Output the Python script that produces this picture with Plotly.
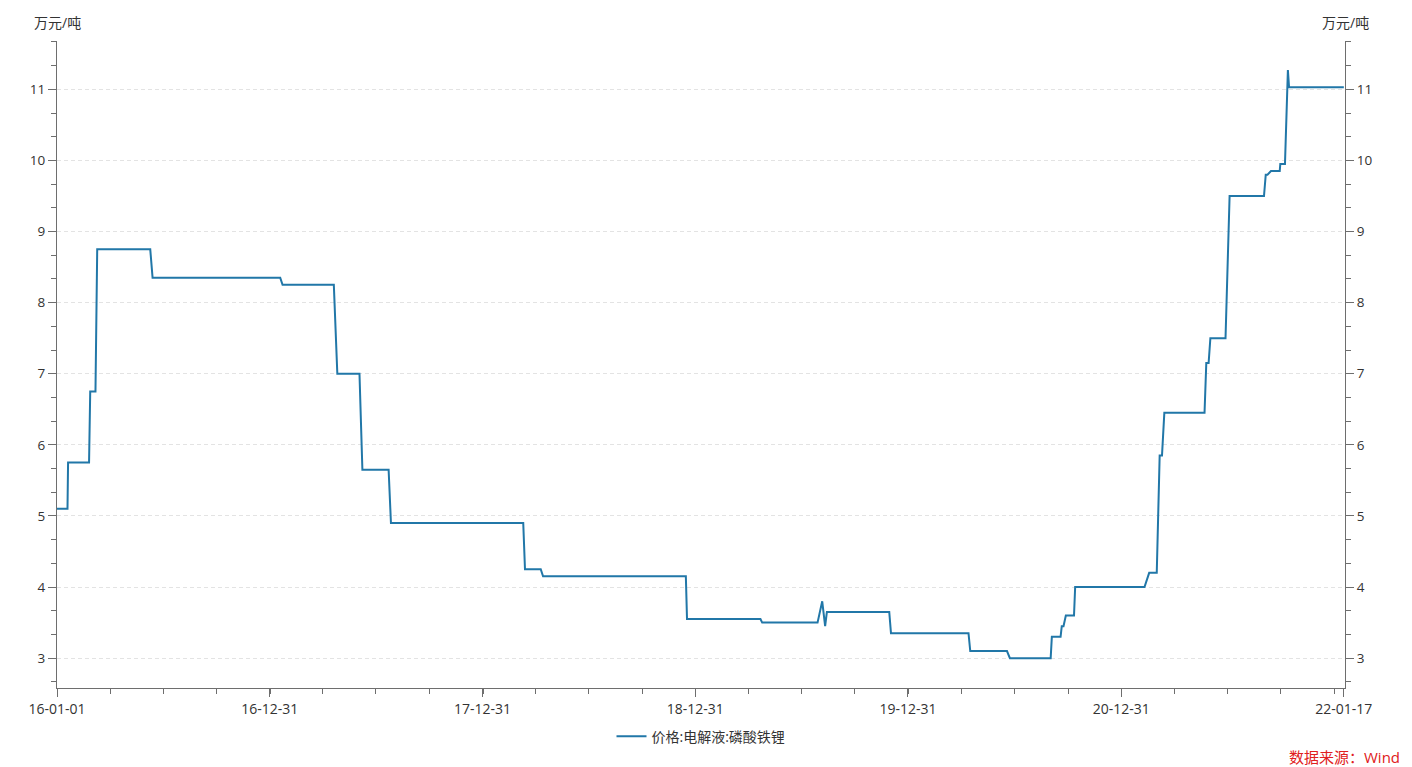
import plotly.graph_objects as go

# Vertices of the price line (万元/吨)
dates = [
    "2016-01-01", "2016-01-19", "2016-01-20", "2016-02-25", "2016-02-27", "2016-03-07",
    "2016-03-10", "2016-06-09", "2016-06-13", "2017-01-18", "2017-01-22", "2017-04-20",
    "2017-04-26", "2017-06-03", "2017-06-08", "2017-07-23", "2017-07-27", "2018-03-11",
    "2018-03-14", "2018-04-10", "2018-04-14", "2018-12-15", "2018-12-17", "2019-04-22",
    "2019-04-25", "2019-07-29", "2019-08-06", "2019-08-11", "2019-08-14", "2019-11-29",
    "2019-12-02", "2020-04-13", "2020-04-16", "2020-06-18", "2020-06-23", "2020-09-01",
    "2020-09-03", "2020-09-18", "2020-09-20", "2020-09-23", "2020-09-27", "2020-10-11",
    "2020-10-13", "2021-02-09", "2021-02-17", "2021-03-02", "2021-03-07", "2021-03-11",
    "2021-03-15", "2021-05-23", "2021-05-26", "2021-05-30", "2021-06-02", "2021-06-28",
    "2021-07-05", "2021-09-02", "2021-09-05", "2021-09-08", "2021-09-14", "2021-09-29",
    "2021-09-30", "2021-10-08", "2021-10-13", "2021-10-15", "2022-01-17",
]
values = [
    5.10, 5.10, 5.75, 5.75, 6.75, 6.75,
    8.75, 8.75, 8.35, 8.35, 8.25, 8.25,
    7.00, 7.00, 5.65, 5.65, 4.90, 4.90,
    4.25, 4.25, 4.15, 4.15, 3.55, 3.55,
    3.50, 3.50, 3.80, 3.45, 3.65, 3.65,
    3.35, 3.35, 3.10, 3.10, 3.00, 3.00,
    3.30, 3.30, 3.45, 3.45, 3.60, 3.60,
    4.00, 4.00, 4.20, 4.20, 5.85, 5.85,
    6.45, 6.45, 7.15, 7.15, 7.50, 7.50,
    9.50, 9.50, 9.80, 9.80, 9.85, 9.85,
    9.95, 9.95, 11.27, 11.03, 11.03,
]

series_name = "价格:电解液:磷酸铁锂"
x_tick_vals = ["2016-01-01", "2016-12-31", "2017-12-31", "2018-12-31",
               "2019-12-31", "2020-12-31", "2022-01-17"]
x_tick_text = ["16-01-01", "16-12-31", "17-12-31", "18-12-31",
               "19-12-31", "20-12-31", "22-01-17"]
y_tick_vals = [3, 4, 5, 6, 7, 8, 9, 10, 11]
unit_label = "万元/吨"
source_text = "数据来源：Wind"

FONT = "'Open Sans', 'Noto Sans CJK SC', sans-serif"
LINE_COLOR = "#2177a8"
AXIS_COLOR = "#6e6e6e"
TEXT_COLOR = "#333333"
Y_RANGE = [2.58, 11.68]

fig = go.Figure()
fig.add_trace(go.Scatter(
    x=dates, y=values, mode="lines", name=series_name,
    line=dict(color=LINE_COLOR, width=2),
))
# copy on the right axis so that it is drawn with labels
fig.add_trace(go.Scatter(
    x=dates, y=values, mode="lines", yaxis="y2", showlegend=False,
    hoverinfo="skip", line=dict(color="rgba(0,0,0,0)", width=0),
))

yaxis_common = dict(
    range=Y_RANGE, tickvals=y_tick_vals, ticks="outside", ticklen=8,
    tickcolor=AXIS_COLOR, showline=True, linecolor=AXIS_COLOR, linewidth=1,
    tickfont=dict(size=13.5, color=TEXT_COLOR, family=FONT), zeroline=False,
    minor=dict(dtick=1 / 3, tick0=3, ticks="outside", ticklen=5,
               tickcolor=AXIS_COLOR, showgrid=False),
)

fig.update_layout(
    width=1412, height=767,
    margin=dict(l=57, r=67, t=41, b=79),
    paper_bgcolor="white", plot_bgcolor="white",
    font=dict(family=FONT, size=13, color=TEXT_COLOR),
    showlegend=True,
    legend=dict(orientation="h", x=0.5, xanchor="center", y=-0.075,
                yanchor="middle", font=dict(size=14, color=TEXT_COLOR, family=FONT)),
    xaxis=dict(
        type="date", range=["2016-01-01", "2022-01-19"],
        tickvals=x_tick_vals, ticktext=x_tick_text,
        ticks="outside", ticklen=8, tickcolor=AXIS_COLOR,
        showline=True, linecolor=AXIS_COLOR, linewidth=1, showgrid=False,
        tickfont=dict(size=14, color=TEXT_COLOR, family=FONT), zeroline=False,
        minor=dict(dtick="M3", tick0="2016-01-01", ticks="outside", ticklen=5,
                   tickcolor=AXIS_COLOR, showgrid=False),
    ),
    yaxis=dict(showgrid=True, gridcolor="#e3e3e3", griddash="4px,3px", gridwidth=1,
               side="left", **yaxis_common),
    yaxis2=dict(overlaying="y", side="right", showgrid=False, **yaxis_common),
)

fig.add_annotation(text=unit_label, xref="paper", yref="paper", x=0, y=1.029,
                   xanchor="center", yanchor="middle", showarrow=False,
                   font=dict(size=14, color=TEXT_COLOR, family=FONT))
fig.add_annotation(text=unit_label, xref="paper", yref="paper", x=1, y=1.029,
                   xanchor="center", yanchor="middle", showarrow=False,
                   font=dict(size=14, color=TEXT_COLOR, family=FONT))
fig.add_annotation(text=source_text, xref="paper", yref="paper", x=1.0443, y=-0.106,
                   xanchor="right", yanchor="middle", showarrow=False,
                   font=dict(size=15, color="#e02020", family=FONT))

# remove the default page margin so the figure sits at the window's corner
fig.write_html("out.html", config={"displayModeBar": False},
               post_script="document.body.style.margin='0';document.body.style.overflow='hidden';")
